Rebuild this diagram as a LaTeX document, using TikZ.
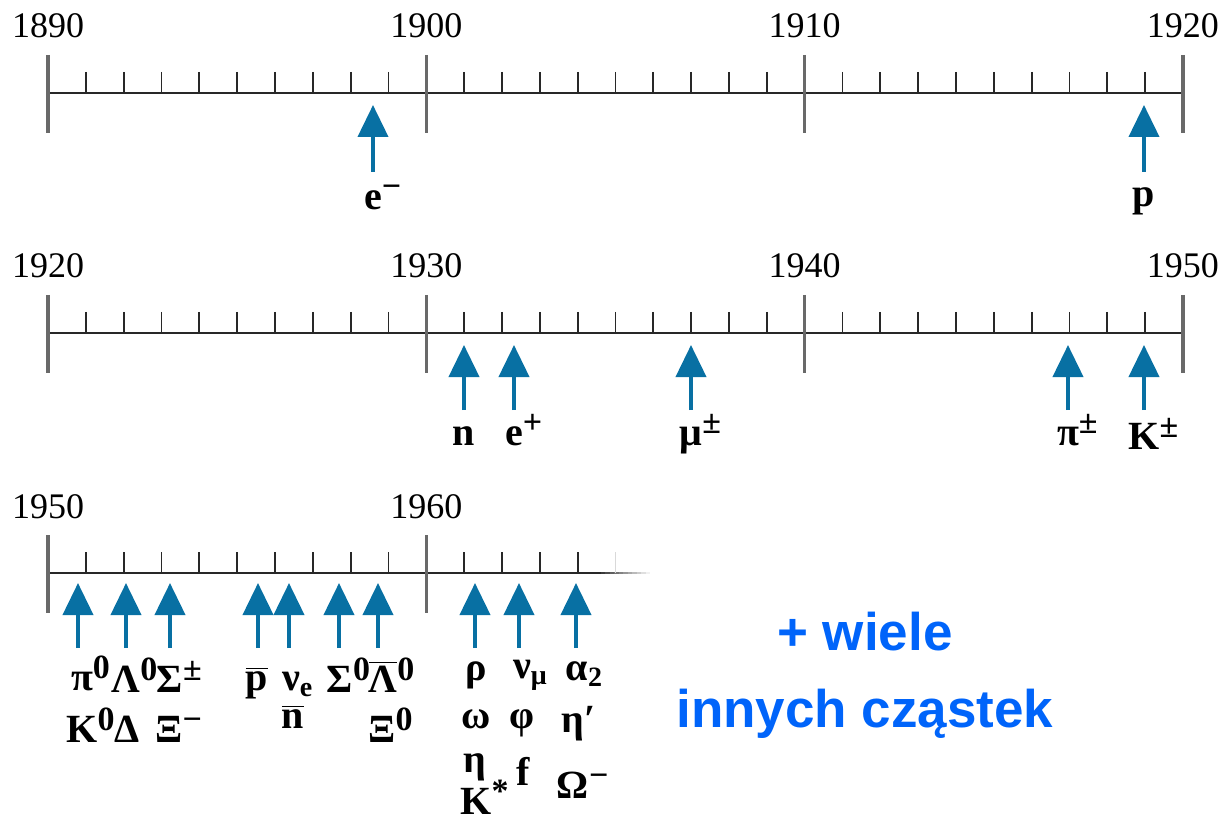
\documentclass[tikz,border=0pt]{standalone}
\usepackage{fontspec}
\setmainfont{Liberation Serif}
\newfontfamily\bluefont{Liberation Sans}
\usetikzlibrary{arrows.meta}
\definecolor{arrcol}{RGB}{8,112,163}
\definecolor{axcol}{RGB}{40,40,40}
\definecolor{majcol}{RGB}{105,105,105}
\definecolor{txtblue}{RGB}{0,100,250}
\newcommand\psup[1]{\rlap{\raisebox{6pt}{\fontsize{17}{17}\selectfont #1}}}
\newcommand\psub[1]{\rlap{\raisebox{-3pt}{\fontsize{14}{14}\selectfont #1}}}
\newcommand\obar[1]{$\overline{\hbox{#1}}$}
\tikzset{
  axisline/.style={draw=axcol, line width=1.2pt},
  majtick/.style={draw=majcol, line width=1.8pt},
  mintick/.style={draw=axcol, line width=0.9pt},
  arr/.style={draw=arrcol, line width=2pt, -{Triangle[width=15pt,length=16pt]}},
  yearlab/.style={font=\fontsize{18}{18}\selectfont, inner sep=0pt, anchor=base},
  plab/.style={font=\fontsize{20}{20}\selectfont\bfseries, inner sep=0pt, anchor=base},
  bluetext/.style={font=\bluefont\fontsize{26.5}{26.5}\selectfont\bfseries, text=txtblue, inner sep=0pt, anchor=base}
}
\begin{document}
\begin{tikzpicture}[x=0.5pt,y=-0.5pt]
\useasboundingbox (0,0) rectangle (1223,824);

% rows 1 and 2: full timelines
\foreach \off/\ya/\yb/\yc/\yd [count=\r] in {0/1890/1900/1910/1920, 240/1920/1930/1940/1950}{
  \draw[axisline] (48,93+\off) -- (1183,93+\off);
  \foreach \k in {1,...,29}{
    \draw[mintick] ({48+\k*37.833},72+\off) -- ({48+\k*37.833},93+\off);
  }
  \foreach \k/\yy in {0/\ya,1/\yb,2/\yc,3/\yd}{
    \draw[majtick] ({48+\k*378.33},55+\off) -- ({48+\k*378.33},133+\off);
    \node[yearlab] (yr\r-\k) at ({48+\k*378.33},38+\off) {\yy};
  }
}

% row 3: fading timeline
\draw[axisline] (48,573) -- (596,573);
\foreach \i in {0,...,11}{
  \pgfmathsetmacro\pc{100-8.5*\i}
  \draw[draw=axcol!\pc!white, line width=1.2pt] ({596+\i*4.5},573) -- ({600.5+\i*4.5},573);
}
\foreach \k in {1,...,14}{
  \draw[mintick] ({48+\k*37.833},552) -- ({48+\k*37.833},573);
}
\draw[draw=gray!30, line width=0.9pt] ({48+15*37.833},552) -- ({48+15*37.833},573);
\foreach \k/\yy in {0/1950,1/1960}{
  \draw[majtick] ({48+\k*378.33},535) -- ({48+\k*378.33},613);
  \node[yearlab] (yr3-\k) at ({48+\k*378.33},518) {\yy};
}

% arrows
\foreach \x [count=\i] in {373,1144}{
  \coordinate (a1t\i) at (\x,172); \coordinate (a1h\i) at (\x,105);
  \draw[arr] (a1t\i) -- (a1h\i);
}
\foreach \x [count=\i] in {464,514,691,1068,1144}{
  \coordinate (a2t\i) at (\x,410); \coordinate (a2h\i) at (\x,345);
  \draw[arr] (a2t\i) -- (a2h\i);
}
\foreach \x [count=\i] in {78,126,170,258,289,339,378,475,519,576}{
  \coordinate (a3t\i) at (\x,648); \coordinate (a3h\i) at (\x,583);
  \draw[arr] (a3t\i) -- (a3h\i);
}

% row 1 labels
\node[plab] (em) at (373,210) {e\psup{−}};
\node[plab] (pr) at (1144,207) {p};

% row 2 labels
\node[plab] (ne) at (464,445) {n};
\node[plab] (ep) at (514,445) {e\psup{+}};
\node[plab] (mu) at (691,445) {μ\psup{±}};
\node[plab] (pi) at (1068,445) {π\psup{±}};
\node[plab] (ka) at (1144,450) {K\psup{±}};

% row 3 labels, left group
\node[plab] (pi0) at (82,690) {π\psup{0}};
\node[plab] (la0) at (126,692) {Λ\psup{0}};
\node[plab] (sipm) at (170,692) {Σ\psup{±}};
\node[plab] (pbar) at (257,690) {\obar{p}};
\node[plab] (nue) at (291,690) {ν\psub{e}};
\node[plab] (si0) at (340,692) {Σ\psup{0}};
\node[plab] (lab0) at (383,692) {\obar{Λ}\psup{0}};
\node[plab] (k0) at (82,742) {K\psup{0}};
\node[plab] (de) at (127,742) {Δ};
\node[plab] (xim) at (169,742) {Ξ\psup{−}};
\node[plab] (nbar) at (293,728) {\obar{n}};
\node[plab] (xi0) at (382,742) {Ξ\psup{0}};

% row 3 labels, right group
\node[plab] (rho) at (476,680) {ρ};
\node[plab] (numu) at (522,678) {ν\psub{μ}};
\node[plab] (al2) at (577,680) {α\psub{2}};
\node[plab] (om) at (476,728) {ω};
\node[plab] (phi) at (522,728) {φ};
\node[plab] (etap) at (573,732) {η\rlap{′}};
\node[plab] (eta) at (475,772) {η};
\node[plab] (ff) at (523,785) {f};
\node[plab] (omm) at (573,798) {Ω\psup{−}};
\node[plab] (kst) at (476,814) {K\psup{*}};

% blue text
\node[bluetext] (t1) at (865,650) {+ wiele};
\node[bluetext] (t2) at (865,727) {innych cząstek};
\end{tikzpicture}
\end{document}
